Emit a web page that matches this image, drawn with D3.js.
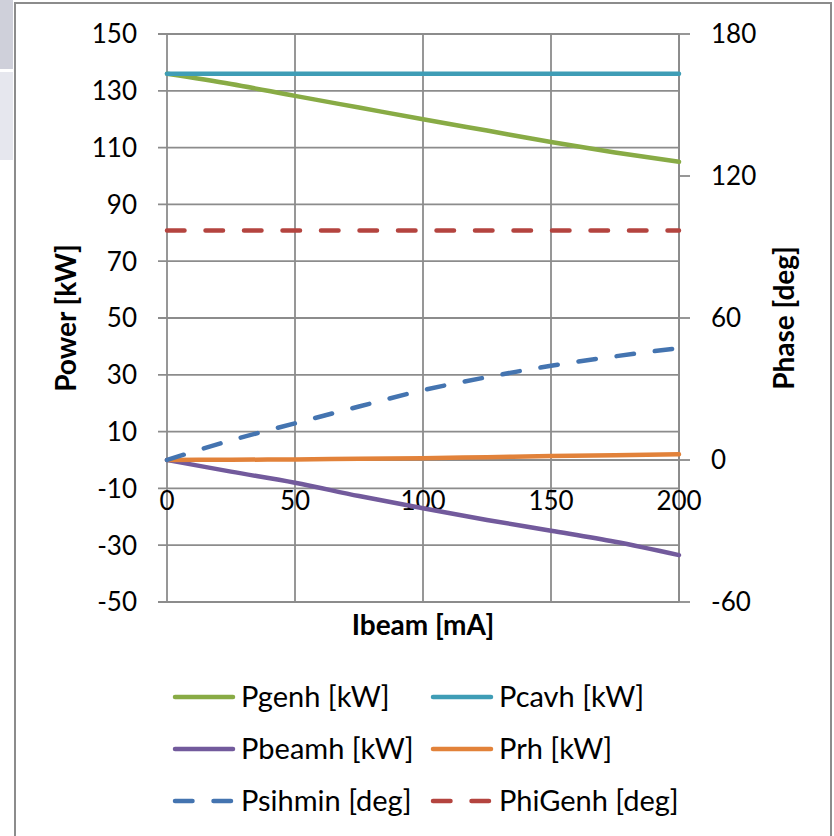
<!DOCTYPE html>
<html>
  <head>
    <meta charset="utf-8">
    <script src="https://d3js.org/d3.v7.min.js"></script>
    <style>
      body { margin: 0; background: #fff; }
      svg text { font-family: Lato, "Open Sans", sans-serif; fill: #000; }
      .grid line { stroke: #8c8c8c; stroke-width: 1.8; }
      .title { font-weight: bold; }
    </style>
  </head>
<body>
  <script type="text/javascript">
    "use strict";
    // values
    var ibeam    = [0, 25, 50, 75, 100, 125, 150, 175, 200];
    var pgenh    = [136, 132.4, 128.2, 124.1, 120, 116, 112, 108.3, 105];
    var pcavh    = [136, 136, 136, 136, 136, 136, 136, 136, 136];
    var pbeamh   = [0, -4.1, -8, -12.7, -17, -21.1, -24.9, -28.8, -33.5];
    var prh      = [0, 0.1, 0.2, 0.4, 0.6, 1.0, 1.4, 1.7, 2.0];
    var psihmin  = [0, 8.3, 15.5, 22.6, 29.5, 35, 39.8, 43.8, 47.3];
    var phigenh  = [97, 97, 97, 97, 97, 97, 97, 97, 97];

    var xTicks = [0, 50, 100, 150, 200];
    var leftTicks = d3.range(-50, 151, 20);
    var rightTicks = [-60, 0, 60, 120, 180];

    var series = [
      {name: "Pgenh [kW]",    values: pgenh,   axis: "left",  color: "#88ab45", dash: false},
      {name: "Pcavh [kW]",    values: pcavh,   axis: "left",  color: "#3f9db6", dash: false},
      {name: "Pbeamh [kW]",   values: pbeamh,  axis: "left",  color: "#725a9c", dash: false},
      {name: "Prh [kW]",      values: prh,     axis: "left",  color: "#e2823a", dash: false},
      {name: "Psihmin [deg]", values: psihmin, axis: "right", color: "#4474b0", dash: true},
      {name: "PhiGenh [deg]", values: phigenh, axis: "right", color: "#b4443f", dash: true}
    ];

    var width = 834, height = 836;
    var plot = {left: 167, right: 679, top: 34, bottom: 602};

    var svg = d3.select("body").append("svg")
      .attr("width", width)
      .attr("height", height);

    // spreadsheet ui bits showing at the left edge
    svg.append("rect").attr("x", 0).attr("y", 0).attr("width", 13).attr("height", 69).attr("fill", "#cfd0da");
    svg.append("rect").attr("x", 0).attr("y", 72).attr("width", 13).attr("height", 88).attr("fill", "#e6e7ee");

    // chart border
    svg.append("rect")
      .attr("x", 15).attr("y", 3)
      .attr("width", 816).attr("height", 850)
      .attr("fill", "#fff")
      .attr("stroke", "#8c8c8c")
      .attr("stroke-width", 2);

    var x = d3.scaleLinear().domain([0, 200]).range([plot.left, plot.right]);
    var yL = d3.scaleLinear().domain([-50, 150]).range([plot.bottom, plot.top]);
    var yR = d3.scaleLinear().domain([-60, 180]).range([plot.bottom, plot.top]);

    var grid = svg.append("g").attr("class", "grid");
    // horizontal gridlines, stretched left to form the tick marks
    grid.selectAll("line.h")
      .data(leftTicks)
      .enter().append("line")
      .attr("x1", plot.left - 9).attr("x2", plot.right)
      .attr("y1", function(d) { return yL(d); })
      .attr("y2", function(d) { return yL(d); });
    // vertical gridlines
    grid.selectAll("line.v")
      .data(xTicks)
      .enter().append("line")
      .attr("x1", function(d) { return x(d); })
      .attr("x2", function(d) { return x(d); })
      .attr("y1", plot.top).attr("y2", plot.bottom);
    // right axis line and ticks
    grid.append("line")
      .attr("x1", plot.right).attr("x2", plot.right)
      .attr("y1", plot.top).attr("y2", plot.bottom);
    grid.selectAll("line.r")
      .data(rightTicks)
      .enter().append("line")
      .attr("x1", plot.right).attr("x2", plot.right + 11)
      .attr("y1", function(d) { return yR(d); })
      .attr("y2", function(d) { return yR(d); });
    // x axis line at zero
    grid.append("line")
      .attr("x1", plot.left).attr("x2", plot.right)
      .attr("y1", yL(0)).attr("y2", yL(0));

    // tick labels
    svg.append("g").selectAll("text")
      .data(leftTicks)
      .enter().append("text")
      .attr("x", 137)
      .attr("y", function(d) { return yL(d); })
      .attr("dy", "0.36em")
      .attr("text-anchor", "end")
      .attr("font-size", 26)
      .text(function(d) { return d; });
    svg.append("g").selectAll("text")
      .data(rightTicks)
      .enter().append("text")
      .attr("x", 711)
      .attr("y", function(d) { return yR(d); })
      .attr("dy", "0.36em")
      .attr("font-size", 26)
      .text(function(d) { return d; });
    svg.append("g").selectAll("text")
      .data(xTicks)
      .enter().append("text")
      .attr("x", function(d) { return x(d); })
      .attr("y", 510)
      .attr("text-anchor", "middle")
      .attr("font-size", 26)
      .text(function(d) { return d; });

    // axis titles
    svg.append("text").attr("class", "title")
      .attr("transform", "translate(76," + (plot.top + plot.bottom) / 2 + ")rotate(-90)")
      .attr("text-anchor", "middle")
      .attr("font-size", 28)
      .text("Power [kW]");
    svg.append("text").attr("class", "title")
      .attr("transform", "translate(794," + (plot.top + plot.bottom) / 2 + ")rotate(-90)")
      .attr("text-anchor", "middle")
      .attr("font-size", 28)
      .text("Phase [deg]");
    svg.append("text").attr("class", "title")
      .attr("x", (plot.left + plot.right) / 2)
      .attr("y", 635)
      .attr("text-anchor", "middle")
      .attr("font-size", 28)
      .text("Ibeam [mA]");

    // series lines
    series.forEach(function(s) {
      var yScale = s.axis === "left" ? yL : yR;
      var line = d3.line()
        .x(function(d, i) { return x(ibeam[i]); })
        .y(function(d) { return yScale(d); })
        .curve(d3.curveMonotoneX);
      svg.append("path")
        .datum(s.values)
        .attr("d", line)
        .attr("fill", "none")
        .attr("stroke", s.color)
        .attr("stroke-width", 4.5)
        .attr("stroke-linecap", "round")
        .attr("stroke-dasharray", s.dash ? "17.5 21" : null);
    });

    // legend, two columns by three rows
    var legend = svg.append("g").attr("class", "legend")
      .selectAll("g")
      .data(series)
      .enter().append("g")
      .attr("transform", function(d, i) {
        return "translate(" + (i % 2 === 0 ? 175 : 433) + "," + (697 + 52 * Math.floor(i / 2)) + ")";
      });
    legend.append("line")
      .attr("x1", 0).attr("x2", 58)
      .attr("y1", 0).attr("y2", 0)
      .attr("stroke", function(d) { return d.color; })
      .attr("stroke-width", 4.5)
      .attr("stroke-linecap", "round")
      .attr("stroke-dasharray", function(d) { return d.dash ? "17.5 21" : null; });
    legend.append("text")
      .attr("x", 66)
      .attr("y", 0)
      .attr("dy", "0.36em")
      .attr("font-size", 29)
      .text(function(d) { return d.name; });
  </script>
</body>
</html>
